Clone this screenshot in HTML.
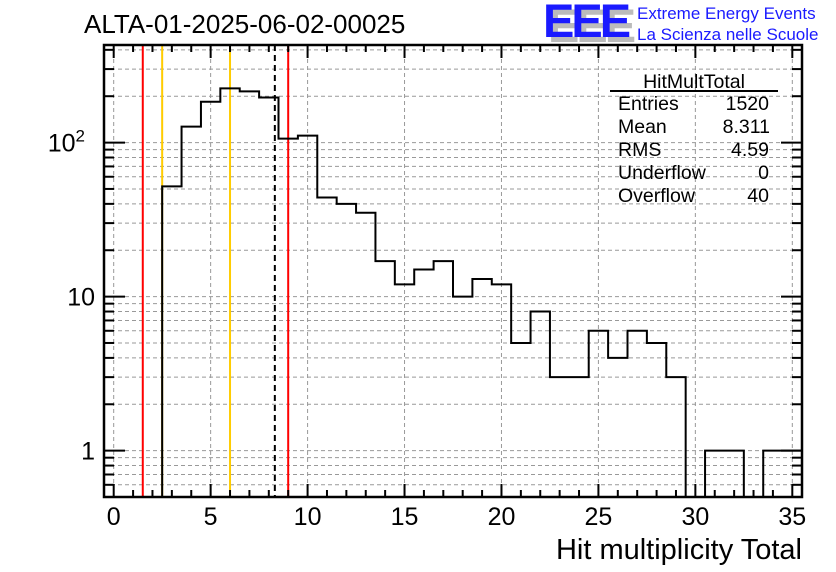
<!DOCTYPE html>
<html><head><meta charset="utf-8"><style>
body{margin:0;background:#fff;}
svg{display:block;font-family:"Liberation Sans",sans-serif;}
</style></head><body>
<svg id="c" width="836" height="572" viewBox="0 0 836 572">
<rect width="836" height="572" fill="#fff"/>
<g id="grid"></g>
<g id="lines"></g>
<g id="hist"></g>
<g id="axes"></g>
<text x="84" y="33" font-size="26">ALTA-01-2025-06-02-00025</text>
<g>
<text x="548" y="42" font-size="47" font-weight="bold" fill="#bbb" letter-spacing="-3">EEE</text>
<text x="543" y="37" font-size="47" font-weight="bold" fill="#1a1aff" letter-spacing="-3">EEE</text>
<text x="637" y="19" font-size="17" fill="#1a1aff">Extreme Energy Events</text>
<text x="637" y="40" font-size="17" fill="#1a1aff">La Scienza nelle Scuole</text>
</g>
<g font-size="19.5">
<text x="694" y="88" text-anchor="middle">HitMultTotal</text>
<line x1="610" y1="91" x2="778" y2="91" stroke="#000" stroke-width="2"/>
<text x="618" y="110">Entries</text><text x="769" y="110" text-anchor="end">1520</text>
<text x="618" y="133">Mean</text><text x="770" y="133" text-anchor="end">8.311</text>
<text x="618" y="156">RMS</text><text x="769" y="156" text-anchor="end">4.59</text>
<text x="618" y="179">Underflow</text><text x="769" y="179" text-anchor="end">0</text>
<text x="618" y="202">Overflow</text><text x="769" y="202" text-anchor="end">40</text>
</g>
<text x="802" y="559" font-size="29" text-anchor="end">Hit multiplicity Total</text>
</svg>
<script>
const binCenters=[3,4,5,6,7,8,9,10,11,12,13,14,15,16,17,18,19,20,21,22,23,24,25,26,27,28,29,30,31,32,33,34,35];
const binCounts=[52,127,184,225,215,196,106,111,44,40,35,17,12,15,17,10,13,12,5,8,3,3,6,4,6,5,3,0,1,1,0,1,1];
const xTicks=[0,5,10,15,20,25,30,35];
const yTickVals=[1,10,100];
const yTickLabels=["1","10","10²"];
const redLines=[1.5,9];
const orangeLines=[2.5,6];
const meanLine=[8.311];
const L=104,R=802,T=45,B=497,xmin=-0.5,xmax=35.5,ymin=0.5,ymax=430;
const X=v=>L+(v-xmin)/(xmax-xmin)*(R-L);
const Y=v=>B-(Math.log10(v)-Math.log10(ymin))/(Math.log10(ymax)-Math.log10(ymin))*(B-T);
const NS="http://www.w3.org/2000/svg";
function mk(tag,attrs,parent){const e=document.createElementNS(NS,tag);for(const k in attrs)e.setAttribute(k,attrs[k]);parent.appendChild(e);return e;}
const grid=document.getElementById('grid'),axes=document.getElementById('axes'),hist=document.getElementById('hist'),lines=document.getElementById('lines');
xTicks.forEach(t=>{const g=mk('line',{x1:X(t),x2:X(t),y1:T,y2:B,stroke:'#999','stroke-dasharray':'4,3','stroke-width':1},grid);

});
const yMinor=[];
for(let d=0.1;d<=100;d*=10){for(let m=1;m<=9;m++){const v=+(d*m).toPrecision(3);if(v>=ymin&&v<=ymax)yMinor.push(v);}}
yMinor.forEach(v=>{const g=mk('line',{x1:L,x2:R,y1:Y(v),y2:Y(v),stroke:'#999','stroke-dasharray':'4,3','stroke-width':1},grid);


const major=yTickVals.includes(v);
mk('line',{x1:L,x2:L+(major?21:10),y1:Y(v),y2:Y(v),stroke:'#000','stroke-width':2},axes);
mk('line',{x1:R,x2:R-(major?21:10),y1:Y(v),y2:Y(v),stroke:'#000','stroke-width':2},axes);});
redLines.forEach(v=>{const l=mk('line',{x1:X(v),x2:X(v),y1:T,y2:B,stroke:'#f00','stroke-width':2},lines);

});
orangeLines.forEach(v=>{const l=mk('line',{x1:X(v),x2:X(v),y1:T,y2:B,stroke:'#fc0','stroke-width':2},lines);

});
meanLine.forEach(v=>{const l=mk('line',{x1:X(v),x2:X(v),y1:T,y2:B,stroke:'#000','stroke-width':2,'stroke-dasharray':'6,4'},lines);

});
let d='';
binCenters.forEach((c,i)=>{const x0=X(c-0.5),x1=X(c+0.5);const n=binCounts[i];const y=n>0?Math.min(Y(n),B):B;
if(i===0)d+=`M${x0},${B}`;d+=`L${x0},${y}L${x1},${y}`;});
d+=`L${X(binCenters[binCenters.length-1]+0.5)},${B}`;
const p=mk('path',{d:d,fill:'none',stroke:'#000','stroke-width':2},hist);


mk('rect',{x:L,y:T,width:R-L,height:B-T,fill:'none',stroke:'#000','stroke-width':2.5},axes);
for(let t=0;t<=35;t++){const major=t%5===0;const len=major?13:7;
mk('line',{x1:X(t),x2:X(t),y1:B,y2:B-len,stroke:'#000','stroke-width':2},axes);
mk('line',{x1:X(t),x2:X(t),y1:T,y2:T+len,stroke:'#000','stroke-width':2},axes);}
xTicks.forEach(t=>{const tx=mk('text',{x:X(t),y:525,'font-size':25,'text-anchor':'middle'},axes);tx.textContent=t;

});
yTickVals.forEach((v,i)=>{const tx=mk('text',{x:95,y:Y(v)+9,'font-size':25,'text-anchor':'end'},axes);


if(i===2){tx.textContent='10';const s=mk('tspan',{dy:-10,'font-size':17},tx);s.textContent='2';tx.setAttribute('x',95-10);}
else tx.textContent=yTickLabels[i];});
</script>
</body></html>
